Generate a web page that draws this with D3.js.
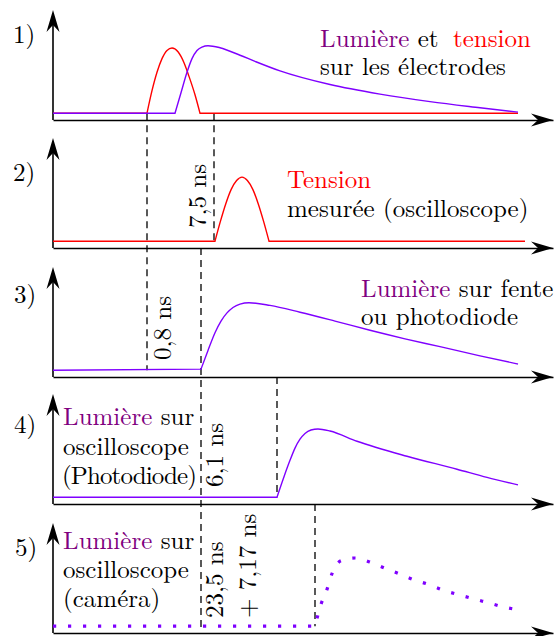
<!DOCTYPE html>
<html><head><meta charset="utf-8">
<script src="https://cdn.jsdelivr.net/npm/d3@7"></script>
<style>
body{margin:0;background:#fff}
svg{display:block}
</style>
</head><body>
<svg id="chart" width="558" height="636"></svg>
<script>
// ---------- data (time units, normalised amplitude) ----------
const tension1Pulse = [[9.4,0],[9.9,0.33],[10.4,0.6],[10.9,0.8],[11.4,0.92],[11.9,0.955],[12.5,0.9],[13.1,0.74],[13.6,0.54],[14.2,0.27],[14.7,0]];
const tension1Span  = [0, 46.5];
const lumiere1Pulse = [[12.2,0],[12.8,0.3],[13.4,0.6],[13.9,0.8],[14.4,0.92],[14.9,0.97],[15.5,0.99],[16.7,0.96],[18.7,0.85],[20.2,0.76],[22.7,0.62],[27.7,0.42],[32.7,0.28],[37.7,0.17],[42.7,0.08],[46.5,0.015]];
const lumiere1Span  = [0, 46.5];
const tension2Pulse = [[16.2,0],[16.74,0.29],[17.28,0.55],[17.82,0.76],[18.36,0.89],[18.9,0.94],[19.44,0.89],[19.98,0.76],[20.52,0.55],[21.06,0.29],[21.6,0]];
const tension2Span  = [0, 47.2];
const lumiere3Pulse = [[14.8,0.015],[15.5,0.29],[16.2,0.55],[16.8,0.72],[17.4,0.84],[18.0,0.92],[18.7,0.97],[19.6,0.99],[21.7,0.95],[24.7,0.85],[28.2,0.72],[31.7,0.585],[35.2,0.46],[38.7,0.345],[42.7,0.21],[46.5,0.09]];
const lumiere3Span  = [0, 46.5];
const lumiere4Pulse = [[22.4,0],[23.1,0.3],[23.7,0.54],[24.2,0.72],[24.7,0.85],[25.2,0.935],[25.8,0.985],[26.5,1.0],[27.7,0.97],[30.4,0.82],[35.4,0.6],[40.4,0.41],[43.4,0.29],[46.5,0.18]];
const lumiere4Span  = [0, 46.5];
const lumiere5Pulse = [[26.2,0],[26.8,0.32],[27.4,0.54],[27.9,0.77],[28.8,0.96],[30.2,1.0],[31.7,0.94],[33.2,0.85],[34.6,0.77],[36.1,0.68],[37.6,0.61],[39.0,0.53],[40.6,0.46],[42.1,0.4],[43.6,0.34],[45.1,0.28],[46.5,0.24]];
const lumiere5Span  = [0, 46.5];

// guide lines: time, [panel, value] start, [panel, value] end
const guideTimes = [9.4, 16.1, 14.8, 22.4, 26.2];
const guideFrom  = [[0,0],[0,0],[1,-0.1],[2,-0.1],[3,-0.1]];
const guideTo    = [[2,0],[1,0],[4,-0.05],[3,0],[4,0]];

const delayLabels = ["7,5 ns","0,8 ns","6,1 ns","23,5 ns","+ 7,17 ns"];
const panelLabels = ["1)","2)","3)","4)","5)"];

// ---------- layout ----------
const FONT = "Latin Modern Roman";
const svg = d3.select("#chart");
const PURPLE = "#7f00ff", TXT_PURPLE = "#800080", RED = "#ff0000";
const axisYs = [120, 248, 377, 504, 633];
const x = d3.scaleLinear().domain([0, 50]).range([53, 553]);
const ys = axisYs.map(a => d3.scaleLinear().domain([-0.1, 1]).range([a, a - 75]));

const panels = [
  [{pulse: tension1Pulse, span: tension1Span, color: RED},
   {pulse: lumiere1Pulse, span: lumiere1Span, color: PURPLE}],
  [{pulse: tension2Pulse, span: tension2Span, color: RED}],
  [{pulse: lumiere3Pulse, span: lumiere3Span, color: PURPLE}],
  [{pulse: lumiere4Pulse, span: lumiere4Span, color: PURPLE}],
  [{pulse: lumiere5Pulse, span: lumiere5Span, color: PURPLE, dotted: true}]
];

const arrow = "M0,0 L-22,-6.5 L-15,0 L-22,6.5 Z";

// axes
axisYs.forEach((a, i) => {
  const g = svg.append("g");
  const ax = g.append("g").attr("transform", `translate(0,${a})`)
    .call(d3.axisBottom(x).tickValues([]).tickSizeOuter(0));
  ax.select(".domain").attr("stroke", "#000").attr("stroke-width", 1.6);
  g.append("path").attr("d", arrow).attr("fill", "#000")
    .attr("transform", `translate(${x(50)},${a})`);
  g.append("line").attr("x1", x(0)).attr("x2", x(0))
    .attr("y1", a).attr("y2", a - 100).attr("stroke", "#000").attr("stroke-width", 1.6);
  g.append("path").attr("d", arrow).attr("fill", "#000")
    .attr("transform", `translate(${x(0)},${a - 110}) rotate(-90)`);
});

// guides
guideTimes.forEach((t, i) => {
  svg.append("line")
    .attr("x1", x(t)).attr("x2", x(t))
    .attr("y1", ys[guideFrom[i][0]](guideFrom[i][1]))
    .attr("y2", ys[guideTo[i][0]](guideTo[i][1]))
    .attr("stroke", "#000").attr("stroke-width", 1.3)
    .attr("stroke-dasharray", "7 5");
});

// curves
panels.forEach((series, pi) => {
  const y = ys[pi];
  const lin = d3.line().x(d => x(d[0])).y(d => y(d[1]));
  const mono = d3.line().x(d => x(d[0])).y(d => y(d[1])).curve(d3.curveMonotoneX);
  series.forEach(s => {
    const first = s.pulse[0], last = s.pulse[s.pulse.length - 1];
    let d = lin([[s.span[0], 0], first]) + mono(s.pulse).replace(/^M/, "L");
    if (last[0] < s.span[1]) d += lin([last, [s.span[1], 0]]).replace(/^M/, "L");
    const p = svg.append("path").attr("d", d).attr("fill", "none")
      .attr("stroke", s.color);
    if (s.dotted) p.attr("stroke-width", 3.2).attr("stroke-dasharray", "3.2 11.8");
    else p.attr("stroke-width", 1.4);
  });
});

function txt(sel) {
  return sel.append("text").attr("font-family", FONT).attr("font-size", 25).attr("fill", "#000");
}

// panel numbers
const labelPos = [[13,43],[13,181],[14,303],[14,433],[15,556]];
panelLabels.forEach((l, i) => txt(svg).attr("x", labelPos[i][0]).attr("y", labelPos[i][1]).text(l));

// annotations: consecutive coloured words as separate text elements
function line(xp, yp, parts) {
  let cx = xp;
  parts.forEach(p => {
    const t = txt(svg).attr("x", cx).attr("y", yp).attr("fill", p[1] || "#000")
      .attr("xml:space", "preserve").style("white-space", "pre").text(p[0]);
    cx += t.node().getComputedTextLength();
  });
}
line(320, 47, [["Lumière", TXT_PURPLE], [" et"]]);
line(453, 47, [["tension", RED]]);
line(320, 75, [["sur les électrodes"]]);
line(287, 188, [["Tension", RED]]);
line(287, 217, [["mesurée (oscilloscope)"]]);
line(361, 297, [["Lumière", TXT_PURPLE], [" sur fente"]]);
line(361, 325, [["ou photodiode"]]);
line(63, 425, [["Lumière", TXT_PURPLE], [" sur"]]);
line(63, 455, [["oscilloscope"]]);
txt(svg).attr("x", 62).attr("y", 484).attr("textLength", 135).attr("lengthAdjust", "spacing").text("(Photodiode)");
line(63, 549, [["Lumière", TXT_PURPLE], [" sur"]]);
line(63, 578, [["oscilloscope"]]);
line(63, 607, [["(caméra)"]]);

// rotated delay labels
const delayPos = [[206,228],[171,360],[223,487],[223,618],[256,618]];
delayLabels.forEach((l, i) => {
  txt(svg).attr("text-anchor", "start")
    .attr("transform", `translate(${delayPos[i][0]},${delayPos[i][1]}) rotate(-90)`)
    .text(l);
});
</script>
</body></html>
